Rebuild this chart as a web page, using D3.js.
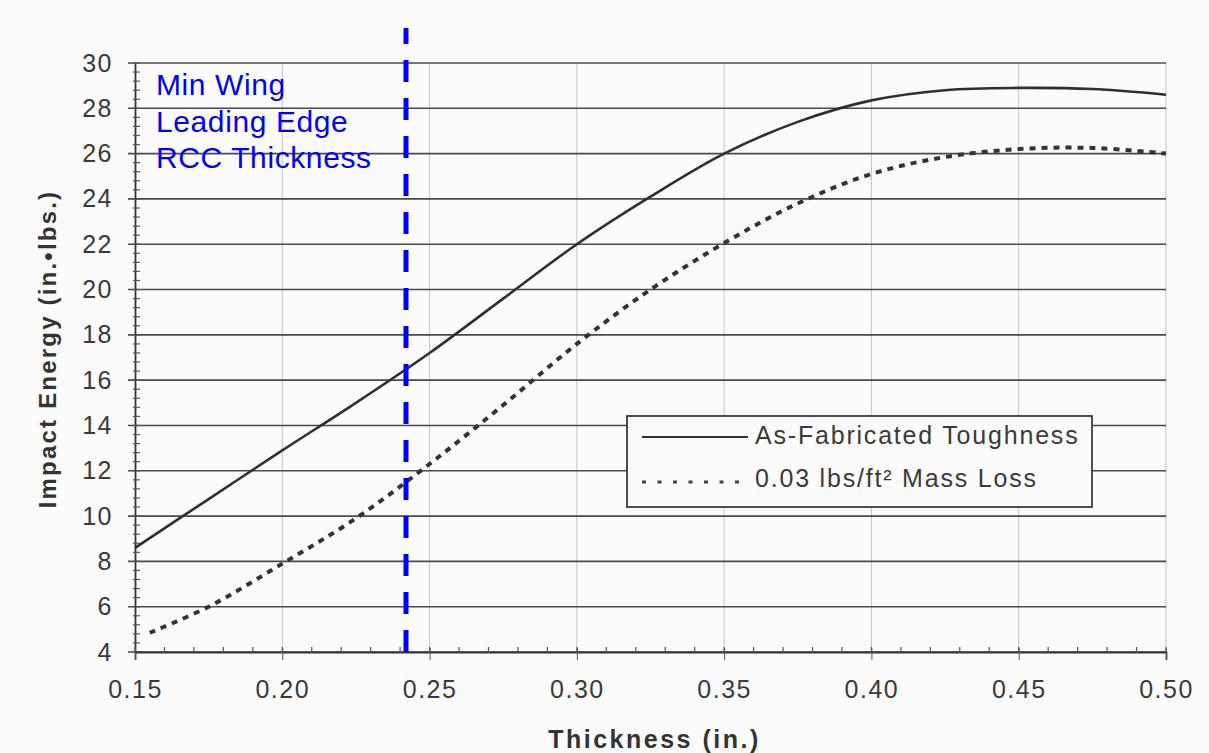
<!DOCTYPE html>
<html><head><meta charset="utf-8">
<script src="https://cdn.jsdelivr.net/npm/d3@7"></script>
<style>
body{margin:0;background:#fbfbfb;}
svg{display:block;font-family:"Liberation Sans",Arial,sans-serif;}
</style></head>
<body>
<svg id="c" width="1209" height="753"></svg>
<script>
// ---- data ----
const xTicks = [0.15,0.20,0.25,0.30,0.35,0.40,0.45,0.50];
const yTicks = [4,6,8,10,12,14,16,18,20,22,24,26,28,30];
const toughX = [0.15,0.175,0.20,0.225,0.25,0.275,0.30,0.325,0.35,0.375,0.40,0.425,0.45,0.475,0.50];
const toughY = [8.6,10.75,12.9,15.0,17.2,19.6,22.0,24.1,26.0,27.4,28.35,28.8,28.9,28.85,28.6];
const lossX = [0.155,0.175,0.20,0.225,0.25,0.275,0.30,0.325,0.35,0.375,0.40,0.425,0.45,0.475,0.50];
const lossY = [4.85,6.0,7.9,9.9,12.3,14.9,17.6,20.0,22.05,23.8,25.1,25.85,26.2,26.25,26.0];
const seriesNames = ["As-Fabricated Toughness","0.03 lbs/ft\u00b2 Mass Loss"];
const minThickness = 0.242;
const annotation = ["Min Wing","Leading Edge","RCC Thickness"];

// ---- layout ----
const svg = d3.select("#c");
const L=135,R=1166,T=63,B=652;
const x = d3.scaleLinear().domain([0.15,0.50]).range([L,R]);
const y = d3.scaleLinear().domain([4,30]).range([B,T]);

// vertical faint grid
svg.append("g").selectAll("line").data(xTicks.slice(1)).join("line")
  .attr("x1",d=>x(d)).attr("x2",d=>x(d)).attr("y1",T).attr("y2",B)
  .attr("stroke","#c4c4c4").attr("stroke-width",1);

// horizontal grid
svg.append("g").selectAll("line").data(yTicks).join("line")
  .attr("x1",L-7).attr("x2",R).attr("y1",d=>y(d)).attr("y2",d=>y(d))
  .attr("stroke","#4a4a4a").attr("stroke-width",1.6);

// y axis
const yAxis = d3.axisLeft(y).tickValues(yTicks).tickSize(0).tickPadding(22).tickFormat(d3.format("d"));
const gy = svg.append("g").attr("transform",`translate(${L},0)`).call(yAxis);
gy.select(".domain").attr("stroke","#333").attr("stroke-width",1.8);
gy.selectAll("text").attr("font-size",25).attr("letter-spacing",1.5).attr("fill","#3a3a3a");
const yMinor = d3.range(4,30.01,0.4);
svg.append("g").selectAll("line").data(yMinor).join("line")
  .attr("x1",L-2).attr("x2",L+5).attr("y1",d=>y(d)).attr("y2",d=>y(d))
  .attr("stroke","#555").attr("stroke-width",1.2);

// x axis
const xAxis = d3.axisBottom(x).tickValues(xTicks).tickSize(8).tickPadding(20).tickFormat(d3.format(".2f"));
const gx = svg.append("g").attr("transform",`translate(0,${B})`).call(xAxis);
gx.select(".domain").attr("stroke","#333").attr("stroke-width",1.8);
gx.selectAll(".tick line").attr("stroke","#555").attr("y1",-4);
gx.selectAll("text").attr("font-size",25).attr("letter-spacing",1.5).attr("fill","#3a3a3a");
const xMinor = d3.range(0.15,0.5001,0.01);
svg.append("g").selectAll("line").data(xMinor).join("line")
  .attr("x1",d=>x(d)).attr("x2",d=>x(d)).attr("y1",B-5).attr("y2",B+1)
  .attr("stroke","#555").attr("stroke-width",1.2);

// axis titles
svg.append("text").attr("x",(L+R)/2+4).attr("y",748).attr("text-anchor","middle")
  .attr("font-size",25).attr("font-weight","bold").attr("letter-spacing",2.5).attr("fill","#333")
  .text("Thickness (in.)");
svg.append("text").attr("transform",`translate(56,349) rotate(-90)`).attr("text-anchor","middle")
  .attr("font-size",24).attr("font-weight","bold").attr("letter-spacing",2.2).attr("fill","#333")
  .text("Impact Energy (in.\u2022lbs.)");

// series
const line = d3.line().x(d=>x(d[0])).y(d=>y(d[1])).curve(d3.curveCatmullRom.alpha(0.5));
svg.append("path").datum(d3.zip(toughX,toughY)).attr("d",line)
  .attr("fill","none").attr("stroke","#2f2f2f").attr("stroke-width",2.6);
svg.append("path").datum(d3.zip(lossX,lossY)).attr("d",line)
  .attr("fill","none").attr("stroke","#333").attr("stroke-width",4).attr("stroke-dasharray","6,6");

// legend
const lg = svg.append("g");
lg.append("rect").attr("x",627).attr("y",416).attr("width",465).attr("height",91)
  .attr("fill","#fbfbfb").attr("stroke","#3a3a3a").attr("stroke-width",1.8);
lg.append("line").attr("x1",642).attr("x2",748).attr("y1",437).attr("y2",437)
  .attr("stroke","#333").attr("stroke-width",1.8);
lg.append("line").attr("x1",642).attr("x2",744).attr("y1",482).attr("y2",482)
  .attr("stroke","#444").attr("stroke-width",3).attr("stroke-dasharray","4,11.5");
lg.selectAll("text.lt").data(seriesNames).join("text").attr("class","lt")
  .attr("x",755).attr("y",(d,i)=>444+i*43).attr("font-size",25).attr("letter-spacing",1.8)
  .attr("fill","#3a3a3a").text(d=>d);

// min thickness marker
svg.append("line").attr("x1",x(minThickness)).attr("x2",x(minThickness))
  .attr("y1",y(4)).attr("y2",y(31.55))
  .attr("stroke","#0000ff").attr("stroke-width",5).attr("stroke-dasharray","22,16");
svg.append("g").selectAll("text").data(annotation).join("text")
  .attr("x",156).attr("y",(d,i)=>95+i*36.5).attr("font-size",30).attr("letter-spacing",0.6)
  .attr("fill","#0000ff").text(d=>d);
</script>
</body></html>
